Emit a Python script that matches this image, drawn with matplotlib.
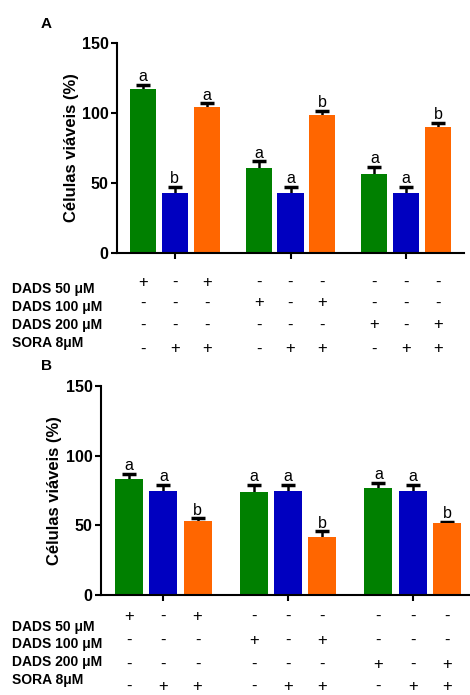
import matplotlib.pyplot as plt
import matplotlib.transforms as mtransforms
import numpy as np

plt.rcParams['font.family'] = ['Liberation Sans', 'DejaVu Sans']

# data
groups = ['DADS 50', 'DADS 100', 'DADS 200']
series_colors = ['#008000', '#0000c0', '#ff6600']

viab_A = [[117, 43, 104.5],
          [60.5, 43, 98.5],
          [56.5, 43, 90]]
err_A = [[3, 4.5, 2.5],
         [5, 4.5, 3],
         [5, 4.5, 3]]
let_A = [['a', 'b', 'a'],
         ['a', 'a', 'b'],
         ['a', 'a', 'b']]

viab_B = [[83.3, 74.6, 53.1],
          [73.9, 74.6, 41.6],
          [76.8, 74.6, 51.7]]
err_B = [[3.5, 4.5, 2],
         [5, 4.5, 4],
         [3.5, 4.5, 0.8]]
let_B = [['a', 'a', 'b'],
         ['a', 'a', 'b'],
         ['a', 'a', 'b']]

row_labels = ['DADS 50 \u03bcM', 'DADS 100 \u03bcM', 'DADS 200 \u03bcM', 'SORA 8\u03bcM']
signs = [['+', '-', '+', '-', '-', '-', '-', '-', '-'],
         ['-', '-', '-', '+', '-', '+', '-', '-', '-'],
         ['-', '-', '-', '-', '-', '-', '+', '-', '+'],
         ['-', '+', '+', '-', '+', '+', '-', '+', '+']]

W, H = 470, 695
fig = plt.figure(figsize=(W / 100, H / 100), dpi=100)


def px_axes(left, top, right, bottom):
    return fig.add_axes([left / W, 1 - bottom / H, (right - left) / W, (bottom - top) / H])


def panel(ax, vals, errs, lets, label_rows, sign_rows, letter, letter_xy, ylab_x):
    off = 0.275
    width = 0.225
    for g in range(3):
        for s in range(3):
            x = g + (s - 1) * off
            ax.bar(x, vals[g][s], width, color=series_colors[s], zorder=2)
            # symmetric bar, lower half hidden behind the column
            ax.errorbar(x, vals[g][s], yerr=errs[g][s], fmt='none',
                        ecolor='black', elinewidth=1.8, capsize=5, capthick=2.5, zorder=1)
            ax.annotate(lets[g][s], (x, vals[g][s] + errs[g][s]), xytext=(0, 0.5),
                        textcoords='offset points', ha='center', va='bottom', fontsize=11.5)
    ax.set_xlim(-0.5, 2.5)
    ax.set_ylim(0, 150)
    ax.set_yticks([0, 50, 100, 150])
    ax.set_xticks([0, 1, 2])
    ax.set_xticklabels([])
    for sp in ['top', 'right']:
        ax.spines[sp].set_visible(False)
    for sp in ['left', 'bottom']:
        ax.spines[sp].set_linewidth(1.5)
    ax.tick_params(width=1.5, length=4.5, pad=1.5, labelsize=11.5)
    for t in ax.get_yticklabels():
        t.set_fontweight('bold')
    ax.set_ylabel('Células viáveis (%)', fontsize=12, fontweight='bold')
    ax.yaxis.set_label_coords(ylab_x, 0.5)

    tr = mtransforms.blended_transform_factory(ax.transData, fig.transFigure)
    xs = [g + (s - 1) * off for g in range(3) for s in range(3)]
    for i, lab in enumerate(row_labels):
        fig.text(12 / W, 1 - label_rows[i] / H, lab, fontsize=10, fontweight='bold',
                 ha='left', va='center')
        for j, sg in enumerate(signs[i]):
            ax.text(xs[j], 1 - sign_rows[i] / H, sg, transform=tr, fontsize=12,
                    ha='center', va='center', clip_on=False)
    fig.text(letter_xy[0] / W, 1 - letter_xy[1] / H, letter, fontsize=11,
             fontweight='bold', ha='left', va='center')


axA = px_axes(117, 43, 464, 253)
panel(axA, viab_A, err_A, let_A,
      [289, 307, 325, 343], [282, 303, 325, 349], 'A', (41, 24), -0.11)

axB = px_axes(101, 386, 475, 595)
panel(axB, viab_B, err_B, let_B,
      [627, 644, 662, 680], [616, 640, 664, 686], 'B', (41, 366), -0.105)

fig.savefig('out.png', dpi=100)
